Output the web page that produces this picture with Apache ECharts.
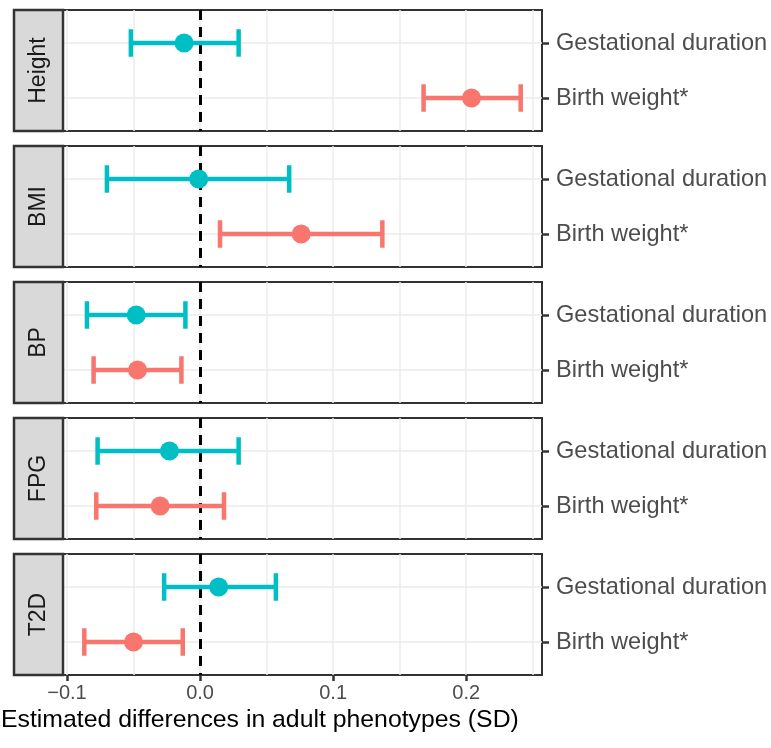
<!DOCTYPE html>
<html>
<head>
<meta charset="utf-8">
<script src="https://cdn.jsdelivr.net/npm/echarts@6/dist/echarts.min.js"></script>
<style>
  html, body { margin: 0; padding: 0; background: #fff; }
  #chart { width: 771px; height: 748px; }
</style>
</head>
<body>
<div id="chart"></div>
<script>
// facet panels and the two exposure rows
var panels = ['Height', 'BMI', 'BP', 'FPG', 'T2D'];
var rowLabels = ['Gestational duration', 'Birth weight*'];

// gestational duration: estimate + 95% CI
var gestEst  = [-0.012, -0.001, -0.048, -0.023,  0.014];
var gestLow  = [-0.052, -0.070, -0.085, -0.077, -0.027];
var gestHigh = [ 0.029,  0.067, -0.011,  0.029,  0.057];

// birth weight: estimate + 95% CI
var bwEst  = [ 0.204,  0.076, -0.047, -0.030, -0.050];
var bwLow  = [ 0.168,  0.015, -0.080, -0.078, -0.087];
var bwHigh = [ 0.241,  0.137, -0.014,  0.018, -0.013];

var xTicks = [-0.1, 0, 0.1, 0.2];
var xGrid = [-0.1, -0.05, 0, 0.05, 0.1, 0.15, 0.2, 0.25];

var TEAL = '#00BFC4', SALMON = '#F8766D';
var FONT = '"Liberation Sans", Arial, sans-serif';

var chart = echarts.init(document.getElementById('chart'));

var panelTop = 10, panelH = 121, panelStep = 136;
var stripLeft = 14, panelLeft = 63, panelRight = 542;

function fmtX(v) {
  if (v < 0) return '\u2212' + Math.abs(v).toFixed(1);
  return v.toFixed(1);
}

function renderBar(params, api) {
  var y = api.value(2);
  var p1 = api.coord([api.value(0), y]);
  var p2 = api.coord([api.value(1), y]);
  var h = Math.abs(api.size([0, 0.25])[1]);
  var st = { stroke: api.visual('color'), lineWidth: 4.5 };
  return {
    type: 'group',
    children: [
      { type: 'line', shape: { x1: p1[0], y1: p1[1], x2: p2[0], y2: p2[1] }, style: st },
      { type: 'line', shape: { x1: p1[0], y1: p1[1] - h, x2: p1[0], y2: p1[1] + h }, style: st },
      { type: 'line', shape: { x1: p2[0], y1: p2[1] - h, x2: p2[0], y2: p2[1] + h }, style: st }
    ]
  };
}

var grids = [], xAxes = [], yAxes = [], series = [], graphics = [];

panels.forEach(function (name, i) {
  var top = panelTop + i * panelStep;
  var last = i === panels.length - 1;
  grids.push({
    left: panelLeft, width: panelRight - panelLeft, top: top, height: panelH,
    show: true, borderColor: '#333', borderWidth: 2, backgroundColor: '#fff',
    containLabel: false, outerBoundsMode: 'none'
  });
  xAxes.push({
    type: 'value', gridIndex: i, min: -0.103, max: 0.257,
    splitLine: { show: false },
    axisLine: { show: false, onZero: false },
    axisTick: { show: last, length: 6, customValues: xTicks, lineStyle: { color: '#333', width: 2.5 } },
    axisLabel: {
      show: last, customValues: xTicks, formatter: fmtX, margin: 8,
      fontSize: 20, color: '#4D4D4D', fontFamily: FONT
    }
  });
  yAxes.push({
    type: 'value', gridIndex: i, min: 0.4, max: 2.6, inverse: true, position: 'right',
    splitLine: { show: false },
    axisLine: { show: true, onZero: false, lineStyle: { color: '#333', width: 2 } },
    axisTick: { show: true, length: 7, customValues: [1, 2], lineStyle: { color: '#333', width: 2.5 } },
    axisLabel: {
      show: true, customValues: [1, 2], margin: 14,
      formatter: function (v) { return rowLabels[Math.round(v) - 1] || ''; },
      fontSize: 23.6, color: '#4D4D4D', fontFamily: FONT
    }
  });

  // grid lines + dashed zero line
  series.push({
    type: 'line', xAxisIndex: i, yAxisIndex: i, data: [], silent: true,
    markLine: {
      silent: true, symbol: 'none', label: { show: false }, z: 1,
      lineStyle: { color: '#EBEBEB', width: 1.5, type: 'solid' },
      data: xGrid.map(function (v) { return { xAxis: v }; })
        .concat([{ yAxis: 1 }, { yAxis: 2 }])
    }
  });
  series.push({
    type: 'line', xAxisIndex: i, yAxisIndex: i, data: [], silent: true,
    markLine: {
      silent: true, symbol: 'none', label: { show: false }, z: 2,
      lineStyle: { color: '#000', width: 3, type: [10, 7] },
      data: [{ xAxis: 0 }]
    }
  });

  // error bars
  series.push({
    type: 'custom', xAxisIndex: i, yAxisIndex: i, renderItem: renderBar, z: 5,
    itemStyle: { color: TEAL }, encode: { x: [0, 1], y: 2 },
    data: [[gestLow[i], gestHigh[i], 1]]
  });
  series.push({
    type: 'custom', xAxisIndex: i, yAxisIndex: i, renderItem: renderBar, z: 5,
    itemStyle: { color: SALMON }, encode: { x: [0, 1], y: 2 },
    data: [[bwLow[i], bwHigh[i], 2]]
  });
  // point estimates
  series.push({
    type: 'scatter', xAxisIndex: i, yAxisIndex: i, symbolSize: 19, z: 6,
    itemStyle: { color: TEAL, opacity: 1 }, data: [[gestEst[i], 1]]
  });
  series.push({
    type: 'scatter', xAxisIndex: i, yAxisIndex: i, symbolSize: 19, z: 6,
    itemStyle: { color: SALMON, opacity: 1 }, data: [[bwEst[i], 2]]
  });

  // facet strip on the left
  graphics.push({
    type: 'rect', z: 10,
    shape: { x: stripLeft, y: top, width: panelLeft - stripLeft, height: panelH },
    style: { fill: '#D9D9D9', stroke: '#333', lineWidth: 2.5 }
  });
  graphics.push({
    type: 'text', z: 11,
    x: (stripLeft + panelLeft) / 2, y: top + panelH / 2, rotation: Math.PI / 2,
    style: {
      text: name, fill: '#1A1A1A', fontSize: 23, fontFamily: FONT,
      align: 'center', verticalAlign: 'middle'
    }
  });
});

graphics.push({
  type: 'text', z: 11, x: 1, y: 720,
  style: {
    text: 'Estimated differences in adult phenotypes (SD)', fill: '#000',
    fontSize: 24.8, fontFamily: FONT, align: 'left', verticalAlign: 'middle'
  }
});

chart.setOption({
  animation: false,
  backgroundColor: '#fff',
  grid: grids,
  xAxis: xAxes,
  yAxis: yAxes,
  series: series,
  graphic: graphics
});
</script>
</body>
</html>
